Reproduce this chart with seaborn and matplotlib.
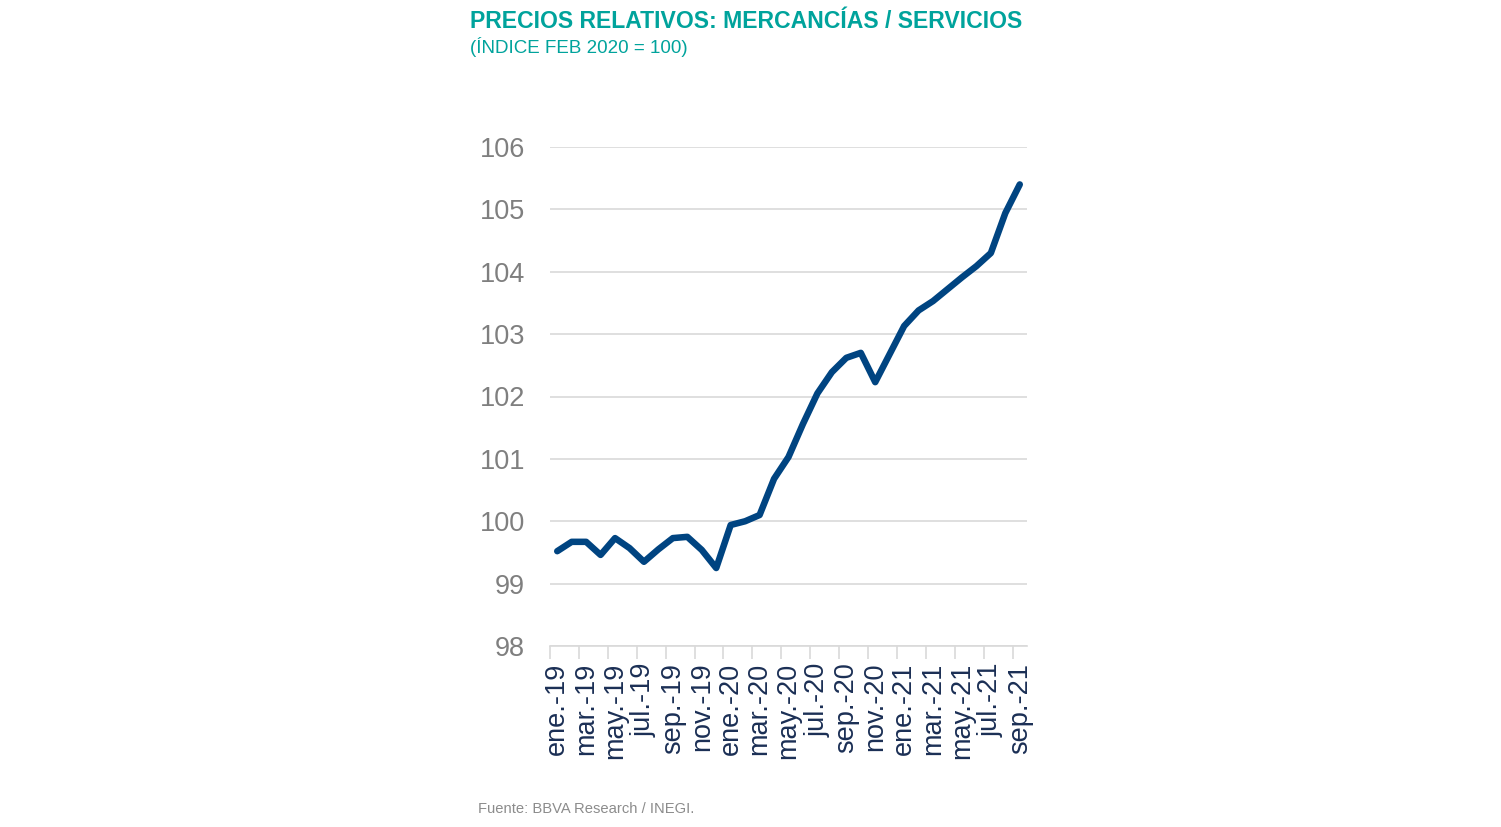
import numpy as np
import pandas as pd
import seaborn as sns
import matplotlib.pyplot as plt

# data
meses = ["ene.", "feb.", "mar.", "abr.", "may.", "jun.",
         "jul.", "ago.", "sep.", "oct.", "nov.", "dic."]
etiquetas = [m + "-" + a for a in ["19", "20", "21"] for m in meses][:33]
valores = [99.52, 99.67, 99.67, 99.46, 99.73, 99.57, 99.35, 99.55, 99.73, 99.75,
           99.54, 99.25, 99.94, 100.00, 100.10, 100.68, 101.03, 101.56, 102.05, 102.39,
           102.62, 102.70, 102.23, 102.68, 103.13, 103.38, 103.53, 103.72, 103.91, 104.09,
           104.30, 104.94, 105.40]
y_ticks = [98, 99, 100, 101, 102, 103, 104, 105, 106]

df = pd.DataFrame({"pos": np.arange(len(valores)), "indice": valores})

sns.set_style("white")
plt.rcParams["font.family"] = ["Liberation Sans", "DejaVu Sans"]

fig = plt.figure(figsize=(15.01, 8.27), dpi=100)
ax = fig.add_axes([550 / 1501, 1 - 646 / 827, 477 / 1501, 499 / 827])

sns.lineplot(data=df, x="pos", y="indice", ax=ax, color="#004481", linewidth=4.7,
             solid_joinstyle="round", solid_capstyle="round")

ax.set_xlim(-0.5, len(valores) - 0.5)
ax.set_ylim(98, 106)
ax.set_yticks(y_ticks)
ax.yaxis.grid(True, color="#d9d9d9", linewidth=1.2)
ax.set_axisbelow(True)
for s in ["left", "right", "top"]:
    ax.spines[s].set_visible(False)
ax.spines["bottom"].set_color("#d9d9d9")
ax.spines["bottom"].set_linewidth(1.2)

ax.set_xticks(df["pos"][::2])
ax.set_xticklabels(etiquetas[::2], rotation=90, fontsize=19.5, color="#1b2f55")
ax.set_xticks(np.arange(-0.5, len(valores) - 1, 2), minor=True)
ax.tick_params(axis="x", which="major", length=0, pad=12)
ax.tick_params(axis="x", which="minor", length=9, color="#d9d9d9", width=1.2, bottom=True)
ax.tick_params(axis="y", length=0, pad=18, labelsize=19.5, labelcolor="#7f7f7f")
ax.set_xlabel("")
ax.set_ylabel("")

fig.text(470 / 1501, 1 - 22 / 827, "PRECIOS RELATIVOS: MERCANCÍAS / SERVICIOS",
         fontsize=16.6, fontweight="bold", color="#00a39c", va="center", ha="left")
fig.text(470 / 1501, 1 - 47 / 827, "(ÍNDICE FEB 2020 = 100)",
         fontsize=13.5, color="#00a39c", va="center", ha="left")
fig.text(478 / 1501, 1 - 809 / 827, "Fuente: BBVA Research / INEGI.",
         fontsize=10.6, color="#8c8c8c", va="center", ha="left")

fig.savefig("out.png", dpi=100, facecolor="white")
